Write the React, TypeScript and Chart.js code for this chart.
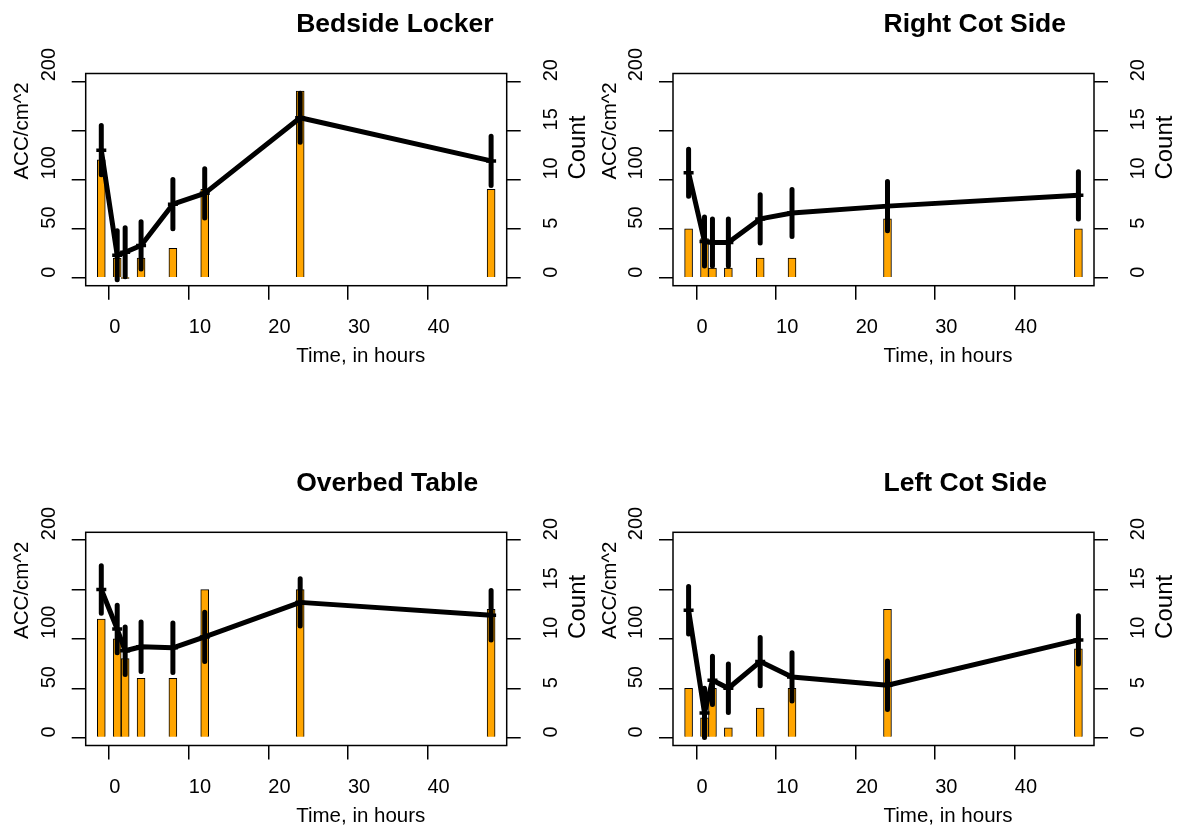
import React, { useEffect, useRef } from "react";
import { Chart, registerables } from "chart.js";

Chart.register(...registerables);

// ---------- data ----------
const times = [-1, 1, 2, 4, 8, 12, 24, 48];
const xTicks = [0, 10, 20, 30, 40];
const accTicks = [0, 50, 100, 150, 200];
const accTickLabels = ["0", "50", "100", "", "200"];
const countTicks = [0, 5, 10, 15, 20];
const countTickLabels = ["0", "5", "10", "15", "20"];

const titles = ["Bedside Locker", "Right Cot Side", "Overbed Table", "Left Cot Side"];

const lockerMean = [130, 23, 26, 33, 75, 86, 163, 119];
const lockerErr = [25, 25, 25, 24, 25, 25, 25, 25];
const lockerCount = [12, 2, 0, 2, 3, 9, 19, 9];

const rightCotMean = [107, 37, 36, 36, 60, 66, 73, 84];
const rightCotErr = [24, 25, 24, 24, 24.5, 24, 25, 24];
const rightCotCount = [5, 4, 1, 1, 2, 2, 6, 5];

const tableMean = [150, 110, 88, 92, 91, 102, 137, 124];
const tableErr = [24, 24, 24, 25, 25, 25, 24, 25];
const tableCount = [12, 10, 8, 6, 6, 15, 15, 13];

const leftCotMean = [129, 25, 58, 50, 77, 61.5, 53, 99];
const leftCotErr = [24, 25, 24.5, 24.5, 24.5, 24.5, 24.5, 24.5];
const leftCotCount = [5, 2, 5, 1, 3, 5, 13, 9];

const seriesMeans = [lockerMean, rightCotMean, tableMean, leftCotMean];
const seriesErrs = [lockerErr, rightCotErr, tableErr, leftCotErr];
const seriesCounts = [lockerCount, rightCotCount, tableCount, leftCotCount];

// ---------- layout ----------
const FONT = '"Liberation Sans", Arial, Helvetica, sans-serif';
const X_MIN = -2.96;
const X_MAX = 49.96;

const panels = [
  { left: 0, top: 0, w: 590, h: 414, yLW: 85.7, yRW: 83.3, xH: 128.3, topPad: 73.5 },
  { left: 589, top: 0, w: 590, h: 414, yLW: 84, yRW: 85, xH: 128.3, topPad: 73.5 },
  { left: 0, top: 414, w: 590, h: 414, yLW: 85.7, yRW: 83.3, xH: 82.5, topPad: 118.3 },
  { left: 589, top: 414, w: 590, h: 414, yLW: 84, yRW: 85, xH: 82.5, topPad: 118.3 },
];

function textPlugin(title: string) {
  return {
    id: "rtext",
    afterDraw(chart: any) {
      const { ctx, chartArea: a } = chart;
      const ys = chart.scales.y;
      const y2 = chart.scales.y2;
      ctx.save();
      ctx.strokeStyle = "#000";
      ctx.lineWidth = 1.5;
      ctx.strokeRect(a.left, a.top, a.right - a.left, a.bottom - a.top);
      ctx.fillStyle = "#000";
      ctx.textAlign = "left";
      ctx.textBaseline = "alphabetic";
      const cx = (a.left + a.right) / 2;
      const cy = (a.top + a.bottom) / 2;
      ctx.font = `bold 26.5px ${FONT}`;
      ctx.fillText(title, cx, a.top - 41.5);
      ctx.font = `20.5px ${FONT}`;
      ctx.fillText("Time, in hours", cx, a.bottom + 76);
      const vtext = (t: string, x: number, y: number, font: string) => {
        ctx.save();
        ctx.translate(x, y);
        ctx.rotate(-Math.PI / 2);
        ctx.font = font;
        ctx.fillText(t, 0, 0);
        ctx.restore();
      };
      vtext("ACC/cm^2", a.left - 57.4, cy, `20.5px ${FONT}`);
      accTicks.forEach((v, i) =>
        vtext(accTickLabels[i], a.left - 30.7, ys.getPixelForValue(v), `20px ${FONT}`)
      );
      countTicks.forEach((v, i) =>
        vtext(countTickLabels[i], a.right + 50, y2.getPixelForValue(v), `20px ${FONT}`)
      );
      vtext("Count", a.right + 78.3, cy, `24px ${FONT}`);
      ctx.restore();
    },
  };
}

const gridOpts = {
  drawOnChartArea: false,
  drawTicks: true,
  tickLength: 14,
  color: "#000",
  lineWidth: 1.5,
  offset: false,
};

function Panel({ idx }: { idx: number }) {
  const ref = useRef<HTMLCanvasElement | null>(null);
  const p = panels[idx];
  useEffect(() => {
    const mean = seriesMeans[idx];
    const err = seriesErrs[idx];
    const count = seriesCounts[idx];
    const errData: any[] = [];
    times.forEach((t, i) => {
      errData.push({ x: t, y: mean[i] - err[i] });
      errData.push({ x: t, y: mean[i] + err[i] });
      errData.push({ x: t, y: null });
    });
    const chart = new Chart(ref.current as HTMLCanvasElement, {
      type: "bar",
      data: {
        datasets: [
          {
            type: "bar",
            label: "Count",
            data: times.map((t, i) => ({ x: t, y: count[i] })),
            yAxisID: "y2",
            backgroundColor: "#FFA500",
            borderColor: "#000",
            borderWidth: 1,
            barPercentage: 1,
            categoryPercentage: 1,
            minBarLength: 1,
            order: 3,
          } as any,
          {
            type: "line",
            label: "err",
            data: errData,
            yAxisID: "y",
            borderColor: "#000",
            borderWidth: 5,
            borderCapStyle: "round",
            pointRadius: 0,
            pointHoverRadius: 0,
            spanGaps: false,
            order: 2,
          } as any,
          {
            type: "line",
            label: "ACC",
            data: times.map((t, i) => ({ x: t, y: mean[i] })),
            yAxisID: "y",
            borderColor: "#000",
            borderWidth: 5,
            borderCapStyle: "round",
            borderJoinStyle: "round",
            pointStyle: "cross",
            pointRadius: 5,
            pointBorderWidth: 3.5,
            pointBorderColor: "#000",
            pointBackgroundColor: "#000",
            order: 1,
          } as any,
        ],
      },
      options: {
        animation: false,
        responsive: false,
        devicePixelRatio: 1,
        events: [],
        layout: { padding: { top: p.topPad, left: 0, right: 0, bottom: 0 } },
        plugins: { legend: { display: false }, tooltip: { enabled: false }, title: { display: false } },
        scales: {
          x: {
            type: "linear",
            position: "bottom",
            min: X_MIN,
            max: X_MAX,
            offset: false,
            afterBuildTicks: (s: any) => {
              s.ticks = xTicks.map((v) => ({ value: v }));
            },
            afterFit: (s: any) => {
              s.height = p.xH;
            },
            grid: gridOpts,
            border: { display: false },
            ticks: {
              align: "start",
              padding: 16,
              maxRotation: 0,
              minRotation: 0,
              autoSkip: false,
              color: "#000",
              font: { family: FONT, size: 20 },
            },
          },
          y: {
            type: "linear",
            position: "left",
            min: -8,
            max: 208,
            afterBuildTicks: (s: any) => {
              s.ticks = accTicks.map((v) => ({ value: v }));
            },
            afterFit: (s: any) => {
              s.width = p.yLW;
            },
            grid: gridOpts,
            border: { display: false },
            ticks: { display: false },
          },
          y2: {
            type: "linear",
            position: "right",
            min: -0.8,
            max: 20.8,
            afterBuildTicks: (s: any) => {
              s.ticks = countTicks.map((v) => ({ value: v }));
            },
            afterFit: (s: any) => {
              s.width = p.yRW;
            },
            grid: gridOpts,
            border: { display: false },
            ticks: { display: false },
          },
        },
      } as any,
      plugins: [textPlugin(titles[idx])],
    });
    return () => chart.destroy();
  }, [idx]);
  return (
    <canvas
      ref={ref}
      width={p.w}
      height={p.h}
      style={{ position: "absolute", left: p.left, top: p.top, width: p.w, height: p.h }}
    />
  );
}

export default function App() {
  return (
    <div style={{ position: "absolute", left: 0, top: 0, width: 1179, height: 828, background: "#fff", overflow: "hidden" }}>
      {panels.map((_, i) => (
        <Panel key={i} idx={i} />
      ))}
    </div>
  );
}
